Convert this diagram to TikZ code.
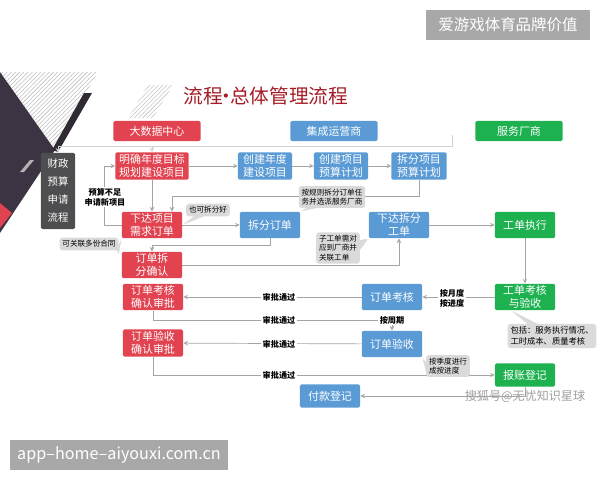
\documentclass[tikz,border=0pt]{standalone}
\usepackage{fontspec}
\setmainfont{Noto Sans CJK SC}
\usepackage{tikz}
\usetikzlibrary{shapes.callouts,patterns}

\definecolor{cred}{RGB}{226,67,80}
\definecolor{cblue}{RGB}{91,155,213}
\definecolor{cgreen}{RGB}{29,177,80}
\definecolor{cdark}{RGB}{78,78,80}
\definecolor{ctitle}{RGB}{165,28,38}
\definecolor{cnote}{RGB}{218,218,218}
\definecolor{cline}{RGB}{165,165,165}
\definecolor{cstamp}{RGB}{168,168,168}
\definecolor{cpurple}{RGB}{60,52,66}

\begin{document}
\begin{tikzpicture}[x=0.025cm,y=-0.025cm,>=stealth,
  box/.style={rounded corners=1pt,text=white,align=center,inner sep=1pt,
    font=\fontsize{7.8}{9.6}\selectfont},
  redbox/.style={box,fill=cred,minimum width=1.5cm,minimum height=0.65cm},
  bluebox/.style={box,fill=cblue,minimum width=1.5cm,minimum height=0.66cm},
  greenbox/.style={box,fill=cgreen,minimum width=1.5cm,minimum height=0.66cm},
  headbox/.style={box,minimum width=2.18cm,minimum height=0.5cm},
  note/.style={rectangle callout,rounded corners=2pt,fill=cnote,align=left,
    inner sep=2pt,font=\fontsize{5.4}{6.6}\selectfont},
  pass/.style={fill=white,inner sep=1pt,align=center,
    font=\bfseries\fontsize{5.8}{7}\selectfont},
  conn/.style={draw=cline,line width=0.5pt}]
\useasboundingbox (0,0) rectangle (600,480);

% left corner graphic
\fill[cpurple] (0,72) -- (55,150) -- (0,233) -- cycle;
\fill[pattern=north east lines,pattern color=gray!50] (0,72) -- (98,72) -- (55,150) -- cycle;
\fill[cpurple!80!black] (84,93) -- (92,93) -- (58,152) -- (52,150) -- cycle;
\fill[gray!60] (20,172) -- (30,160) -- (34,160) -- (24,172) -- cycle;
\fill[cred] (0,203) -- (12,213) -- (0,228) -- cycle;
\fill[pattern=north east lines,pattern color=gray!45] (148,85) -- (173,85) -- (153,118) -- (128,118) -- cycle;

\node[text=ctitle,font=\fontsize{14}{16}\selectfont] (title) at (266,96)
  {流程\hspace{-0.32em}·\hspace{-0.32em}总体管理流程};

\node[headbox,fill=cred] (dashuju) at (157,131) {大数据中心};
\node[headbox,fill=cblue] (jicheng) at (334,131) {集成运营商};
\node[headbox,fill=cgreen] (fuwu) at (519,131) {服务厂商};

\node[box,fill=cdark,minimum width=0.85cm,minimum height=1.9cm,
  font=\fontsize{7.4}{12.8}\selectfont] (caizheng) at (58,191) {财政\\预算\\申请\\流程};

\node[redbox,minimum width=1.83cm,minimum height=0.68cm] (mubiao) at (152,166) {明确年度目标\\规划建设项目};
\node[bluebox,minimum width=1.35cm,minimum height=0.68cm] (cjnd) at (265,166) {创建年度\\建设项目};
\node[bluebox,minimum width=1.35cm,minimum height=0.68cm] (cjxm) at (341,166) {创建项目\\预算计划};
\node[bluebox,minimum width=1.38cm,minimum height=0.68cm] (cfxm) at (419,166) {拆分项目\\预算计划};
\node[redbox] (xiada) at (152,225) {下达项目\\需求订单};
\node[bluebox] (cfdd) at (270,225) {拆分订单};
\node[bluebox] (xdgd) at (399,225) {下达拆分\\工单};
\node[greenbox] (gdzx) at (525,225) {工单执行};
\node[redbox,minimum height=0.6cm] (queren) at (152,265) {订单拆\\分确认};
\node[redbox] (khsp) at (153,297) {订单考核\\确认审批};
\node[bluebox] (ddkh) at (392,297) {订单考核};
\node[greenbox] (gdkh) at (525,297) {工单考核\\与验收};
\node[redbox,minimum height=0.68cm] (yssp) at (153,343) {订单验收\\确认审批};
\node[bluebox] (ddys) at (392,344) {订单验收};
\node[greenbox,minimum height=0.58cm] (baozhang) at (525,375) {报账登记};
\node[bluebox,minimum height=0.58cm] (fukuan) at (330,396) {付款登记};

\coordinate (topc) at (452,135);
\coordinate (tl) at (452,146);
\draw[conn,draw=cline!50,->] (topc) -- (tl) -| (caizheng.north);
\draw[conn,draw=cline!50,->] (mubiao.north |- tl) -- (mubiao.north);

\draw[conn,->] (mubiao) -- (cjnd);
\draw[conn,->] (cjnd) -- (cjxm);
\draw[conn,->] (cjxm) -- (cfxm);
\draw[conn,->] (cfxm.south) -- ++(0,16) -| ([xshift=0.5cm]xiada.north);
\draw[conn,->] (mubiao) -- (xiada);
\draw[conn,->] (xiada.west) -- ++(-17,0) |- (mubiao.west);
\draw[conn,->] (xiada) -- (cfdd);
\draw[conn,->] (cfdd.south) -- ++(0,7) -| (queren.north);
\draw[conn,->] (queren.east) -| (xdgd.south);
\draw[conn,->] (xdgd) -- (gdzx);
\draw[conn,->] (gdzx) -- (gdkh);
\draw[conn,->] (gdkh) -- (ddkh);
\draw[conn,->] (ddkh) -- (khsp);
\draw[conn,->] (khsp.south) -- ++(0,10) -| (ddys.north);
\draw[conn,->] (ddys) -- (yssp);
\draw[conn,->] (yssp.south) |- (baozhang.west);
\draw[conn,->] (baozhang.south) |- (fukuan.east);

\node[pass] (yusuan) at (105,197) {预算不足\\申请新项目};
\node[pass] (sp1) at (279,297) {审批通过};
\node[pass] (sp2) at (279,320) {审批通过};
\node[pass] (sp3) at (279,344) {审批通过};
\node[pass] (sp4) at (279,375) {审批通过};
\node[pass] (anyue) at (452,298) {按月度\\按进度};
\node[pass] (anzhou) at (392,320) {按周期};

\node[note,callout absolute pointer={(xiada.east)}] (n1) at (208,210) {也可拆分好};
\node[note,callout absolute pointer={(xiada.south west)}] (n2) at (89,244) {可关联多份合同};
\node[note,callout absolute pointer={(cfdd.north east)}] (n3) at (332,197) {按规则拆分订单任\\务并选派服务厂商};
\node[note,callout absolute pointer={(xdgd.south west)}] (n4) at (338,248) {子工单需对\\应到厂商并\\关联工单};
\node[note,font=\fontsize{5.9}{7.6}\selectfont,
  callout absolute pointer={([xshift=-0.35cm]gdkh.south)}] (n5) at (552,336) {包括：服务执行情况、\\工时成本、质量考核};
\node[note,callout absolute pointer={(ddys.south east)}] (n6) at (448,366) {按季度进行\\成按进度};

\node[text=gray!75,font=\fontsize{8.6}{10}\selectfont] (wm) at (525,396) {搜狐号@无忧知识星球};

\node[fill=cstamp,text=white,minimum width=4.1cm,minimum height=0.75cm,
  font=\fontsize{11}{13}\selectfont] (stamp1) at (508,25) {爱游戏体育品牌价值};
\node[fill=cstamp,text=white,minimum width=5.45cm,minimum height=0.75cm,
  font=\fontsize{11.5}{13}\selectfont] (stamp2) at (119,455) {app–home–aiyouxi.com.cn};
\end{tikzpicture}
\end{document}
